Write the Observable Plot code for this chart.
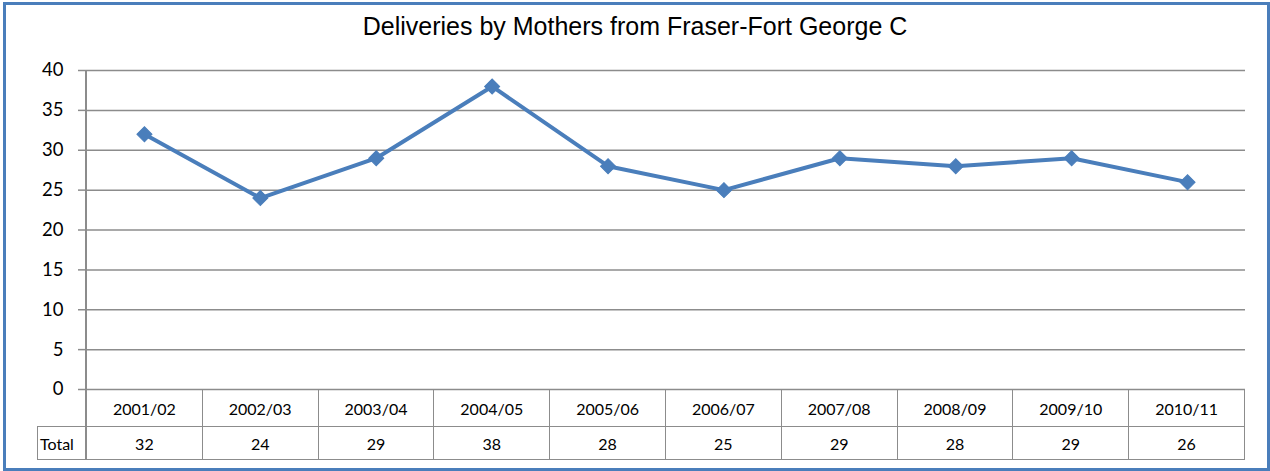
<!DOCTYPE html>
<html><head><meta charset="utf-8">
<script src="https://cdn.jsdelivr.net/npm/d3@7"></script>
<script src="https://cdn.jsdelivr.net/npm/@observablehq/plot@0.6"></script>
<style>
html,body{margin:0;padding:0;background:#fff;}
#frame{position:absolute;left:3px;top:2px;width:1261px;height:463px;border:3px solid #4a7ebb;box-sizing:content-box;}
#title{position:absolute;left:0;top:14px;width:1270px;text-align:center;font-family:"Liberation Sans",Arial,sans-serif;font-size:25px;line-height:1;color:#000;}
#chart{position:absolute;left:0;top:0;}
#tbl{position:absolute;left:37px;top:389px;border-collapse:collapse;table-layout:fixed;width:1208px;font-family:Lato,"Open Sans",sans-serif;font-size:16px;color:#000;}
#tbl td{border:1.5px solid #8c8c8c;text-align:center;padding:0;overflow:hidden;white-space:nowrap;}
</style></head>
<body>
<div id="frame"></div>
<div id="chart"></div>
<div id="title">Deliveries by Mothers from Fraser-Fort George C</div>
<table id="tbl"><colgroup id="cols"></colgroup></table>
<script>
const categories = ["2001/02","2002/03","2003/04","2004/05","2005/06","2006/07","2007/08","2008/09","2009/10","2010/11"];
const totals = [32,24,29,38,28,25,29,28,29,26];
const seriesName = "Total";
const yTicks = [0,5,10,15,20,25,30,35,40];

const data = categories.map((c,i)=>({period:c, value:totals[i]}));
const blue = "#4a7ebb";
const grid = "#8c8c8c";

const plot = Plot.plot({
  width: 1270,
  height: 390,
  marginLeft: 86,
  marginRight: 25,
  marginTop: 70,
  marginBottom: 1,
  style: {fontFamily: 'Lato, "Open Sans", sans-serif', fontSize: "18.5px", color: "#000", background: "transparent", overflow: "visible"},
  x: {type: "point", domain: categories, padding: 0.5, round: false, axis: null},
  y: {domain: [0,40], ticks: yTicks, tickSize: 8, tickPadding: 15, label: null, tickFormat: d=>d},
  marks: [
    Plot.gridY(yTicks, {stroke: grid, strokeOpacity: 1, strokeWidth: 1.5}),
    Plot.line(data, {x: "period", y: "value", stroke: blue, strokeWidth: 4}),
    Plot.dot(data, {x: "period", y: "value", symbol: "square", rotate: 45, r: 6, fill: blue, stroke: blue, strokeWidth: 1})
  ]
});
plot.querySelectorAll('[aria-label="y-axis tick"] path, [aria-label="y-axis tick"]').forEach(el=>{el.setAttribute("stroke", grid); el.setAttribute("stroke-width","1.5");});
plot.querySelectorAll('[aria-label="y-axis tick label"]').forEach(el=>el.setAttribute("fill","#000"));
document.getElementById("chart").appendChild(plot);

const axisLine = document.createElement("div");
axisLine.style.cssText = "position:absolute;left:85px;top:70px;width:1.5px;height:389px;background:"+grid+";";
document.body.appendChild(axisLine);

// data table
const tbl = document.getElementById("tbl");
const cols = document.getElementById("cols");
const c0 = document.createElement("col"); c0.style.width = "49px"; cols.appendChild(c0);
categories.forEach(()=>{const c=document.createElement("col"); cols.appendChild(c);});
const r1 = tbl.insertRow();
const blank = r1.insertCell(); blank.style.cssText = "border:none;border-right:1.5px solid "+grid+";";
categories.forEach(c=>{const td=r1.insertCell(); td.textContent=c; td.style.height="36px";});
const r2 = tbl.insertRow();
const lab = r2.insertCell(); lab.textContent = seriesName; lab.style.textAlign="left"; lab.style.paddingLeft="2px"; lab.style.height="32px";
totals.forEach(v=>{const td=r2.insertCell(); td.textContent=v;});
</script>
</body></html>
